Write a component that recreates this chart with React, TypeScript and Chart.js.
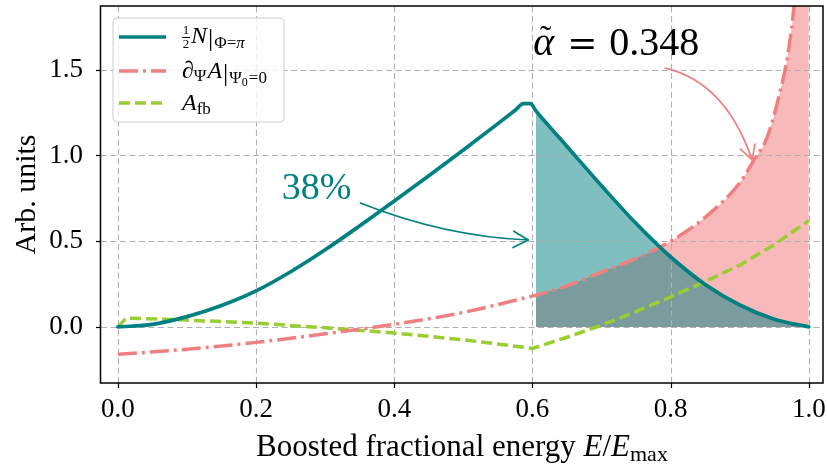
import React, { useEffect, useRef } from 'react';
import { Chart, registerables } from 'chart.js';

Chart.register(...registerables);

// ---- data ----
const xTicks = [0, 0.2, 0.4, 0.6, 0.8, 1.0];
const yTicks = [0, 0.5, 1.0, 1.5];

const tealX = [0, 0.05, 0.1, 0.15, 0.2, 0.25, 0.3, 0.35, 0.4, 0.45, 0.5, 0.55, 0.575, 0.587, 0.597, 0.605, 0.65, 0.7, 0.75, 0.8, 0.85, 0.9, 0.95, 1.0];
const tealY = [0, 0.015, 0.06, 0.125, 0.21, 0.322, 0.45, 0.59, 0.735, 0.882, 1.032, 1.186, 1.264, 1.302, 1.302, 1.26, 1.053, 0.823, 0.603, 0.408, 0.248, 0.128, 0.045, 0.0];

const redX = [0, 0.1, 0.2, 0.3, 0.4, 0.5, 0.6, 0.605, 0.65, 0.7, 0.75, 0.8, 0.85, 0.9, 0.92, 0.94, 0.96, 0.97, 0.98, 0.99, 1.0];
const redY = [-0.16, -0.13, -0.09, -0.04, 0.015, 0.085, 0.18, 0.185, 0.24, 0.32, 0.4, 0.5, 0.64, 0.84, 0.97, 1.11, 1.4, 1.6, 1.95, 2.7, 4.0];

const greenX = [0, 0.012, 0.1, 0.2, 0.3, 0.4, 0.5, 0.6, 0.65, 0.7, 0.75, 0.8, 0.85, 0.9, 0.95, 1.0];
const greenY = [0, 0.052, 0.04, 0.022, -0.005, -0.035, -0.075, -0.125, -0.06, 0.01, 0.09, 0.175, 0.265, 0.36, 0.48, 0.62];

const fillStart = 0.605;
const shareLabel = '38%';
const alphaValue = '0.348';

// ---- styles ----
const FONT = "'Liberation Serif', 'Times New Roman', serif";
const TEAL = '#008080';
const CORAL = '#f08080';
const GREEN = '#9acd32';

const pts = (xs: number[], ys: number[]) => xs.map((x, i) => ({ x, y: ys[i] }));

type Part = { t: string; size: number; italic?: boolean; dy?: number; dx?: number };
const fontOf = (p: Part) => `${p.italic ? 'italic ' : ''}${p.size}px ${FONT}`;
function measureRun(ctx: CanvasRenderingContext2D, parts: Part[]) {
  let w = 0;
  for (const p of parts) {
    ctx.font = fontOf(p);
    w += (p.dx || 0) + ctx.measureText(p.t).width;
  }
  return w;
}
function drawRun(ctx: CanvasRenderingContext2D, x: number, y: number, parts: Part[]) {
  for (const p of parts) {
    ctx.font = fontOf(p);
    x += p.dx || 0;
    ctx.fillText(p.t, x, y + (p.dy || 0));
    x += ctx.measureText(p.t).width;
  }
  return x;
}

function drawArrow(ctx: CanvasRenderingContext2D, p0: number[], c: number[], p2: number[], color: string, lw: number, head: number) {
  ctx.save();
  ctx.strokeStyle = color;
  ctx.lineWidth = lw;
  ctx.lineCap = 'round';
  ctx.lineJoin = 'round';
  ctx.beginPath();
  ctx.moveTo(p0[0], p0[1]);
  ctx.quadraticCurveTo(c[0], c[1], p2[0], p2[1]);
  ctx.stroke();
  const ang = Math.atan2(p2[1] - c[1], p2[0] - c[0]);
  const spread = 0.5;
  ctx.beginPath();
  ctx.moveTo(p2[0] - head * Math.cos(ang - spread), p2[1] - head * Math.sin(ang - spread));
  ctx.lineTo(p2[0], p2[1]);
  ctx.lineTo(p2[0] - head * Math.cos(ang + spread), p2[1] - head * Math.sin(ang + spread));
  ctx.stroke();
  ctx.restore();
}

const zeroPad = (s: any) => {
  s.paddingLeft = 0;
  s.paddingRight = 0;
  s.paddingTop = 0;
  s.paddingBottom = 0;
};

const decorPlugin = {
  id: 'decor',
  afterDatasetDraw(chart: any, args: any) {
    // grid drawn above the fills but below the curves (matplotlib style)
    if (args.index !== 3) return;
    const { ctx, chartArea: a, scales } = chart;
    ctx.save();
    ctx.beginPath();
    ctx.rect(a.left, a.top, a.right - a.left, a.bottom - a.top);
    ctx.clip();
    ctx.strokeStyle = '#b0b0b0';
    ctx.lineWidth = 1.1;
    ctx.setLineDash([6, 3.5]);
    for (const t of xTicks) {
      const x = Math.round(scales.x.getPixelForValue(t)) + 0.5;
      ctx.beginPath();
      ctx.moveTo(x, a.bottom);
      ctx.lineTo(x, a.top);
      ctx.stroke();
    }
    for (const t of yTicks) {
      const y = Math.round(scales.y.getPixelForValue(t)) + 0.5;
      ctx.beginPath();
      ctx.moveTo(a.left, y);
      ctx.lineTo(a.right, y);
      ctx.stroke();
    }
    ctx.restore();
  },
  afterDraw(chart: any) {
    const { ctx, chartArea: a, scales } = chart;
    const X = (v: number) => scales.x.getPixelForValue(v);
    const Y = (v: number) => scales.y.getPixelForValue(v);
    ctx.save();

    // frame
    ctx.strokeStyle = '#000';
    ctx.lineWidth = 1.5;
    ctx.strokeRect(a.left - 0.5, a.top, a.right - a.left + 0.5, a.bottom - a.top);
    // tick marks
    ctx.lineWidth = 1.2;
    for (const t of xTicks) {
      const x = Math.round(X(t)) + 0.5;
      ctx.beginPath();
      ctx.moveTo(x, a.bottom);
      ctx.lineTo(x, a.bottom + 5);
      ctx.stroke();
    }
    for (const t of yTicks) {
      const y = Math.round(Y(t)) + 0.5;
      ctx.beginPath();
      ctx.moveTo(a.left, y);
      ctx.lineTo(a.left - 5, y);
      ctx.stroke();
    }

    // x-axis title with math part
    ctx.fillStyle = '#000';
    ctx.textAlign = 'left';
    ctx.textBaseline = 'alphabetic';
    const titleParts: Part[] = [
      { t: 'Boosted fractional energy ', size: 31 },
      { t: 'E', size: 31, italic: true },
      { t: '/', size: 31 },
      { t: 'E', size: 31, italic: true },
      { t: 'max', size: 22, dy: 5 },
    ];
    const tw = measureRun(ctx, titleParts);
    drawRun(ctx, (a.left + a.right) / 2 - tw / 2, 456, titleParts);

    // arrows
    drawArrow(ctx, [X(0.351), Y(0.723)], [X(0.472), Y(0.528)], [X(0.594), Y(0.507)], TEAL, 1.7, 17);
    drawArrow(ctx, [X(0.792), Y(1.51)], [X(0.879), Y(1.43)], [X(0.918), Y(0.974)], CORAL, 1.7, 16);

    // 38% label
    ctx.fillStyle = TEAL;
    ctx.font = `38px ${FONT}`;
    ctx.textAlign = 'center';
    ctx.fillText(shareLabel, X(0.2875), Y(0.746));

    // alpha label
    ctx.fillStyle = '#000';
    ctx.textAlign = 'left';
    const ax = X(0.601);
    const ay = Y(1.586);
    ctx.font = `italic 40px ${FONT}`;
    ctx.fillText('α', ax, ay);
    const aw = ctx.measureText('α').width;
    ctx.textAlign = 'center';
    ctx.font = `34px ${FONT}`;
    ctx.fillText('˜', ax + aw / 2 + 2, ay - 6);
    ctx.textAlign = 'left';
    ctx.font = `36px 'DejaVu Serif', ${FONT}`;
    ctx.fillText('=', ax + 34, ay);
    ctx.font = `40px ${FONT}`;
    ctx.fillText(alphaValue, ax + 76, ay);

    // legend
    const lx = 113, ly = 18, lw = 171, lh = 104, r = 4;
    ctx.beginPath();
    ctx.moveTo(lx + r, ly);
    ctx.arcTo(lx + lw, ly, lx + lw, ly + lh, r);
    ctx.arcTo(lx + lw, ly + lh, lx, ly + lh, r);
    ctx.arcTo(lx, ly + lh, lx, ly, r);
    ctx.arcTo(lx, ly, lx + lw, ly, r);
    ctx.closePath();
    ctx.fillStyle = 'rgba(255,255,255,0.8)';
    ctx.fill();
    ctx.strokeStyle = '#cccccc';
    ctx.lineWidth = 1;
    ctx.stroke();

    const handle = (y: number, color: string, dash: number[], w: number) => {
      ctx.save();
      ctx.strokeStyle = color;
      ctx.lineWidth = w;
      ctx.setLineDash(dash);
      ctx.beginPath();
      ctx.moveTo(119, y);
      ctx.lineTo(166, y);
      ctx.stroke();
      ctx.restore();
    };
    handle(37, TEAL, [], 3.5);
    handle(71, CORAL, [19, 5, 3, 5], 3.5);
    handle(103, GREEN, [11, 5], 3.5);

    ctx.fillStyle = '#000';
    ctx.textAlign = 'center';
    ctx.font = `13px ${FONT}`;
    ctx.fillText('1', 186, 34);
    ctx.fillText('2', 186, 48);
    ctx.fillRect(182, 37, 8, 1);
    ctx.textAlign = 'left';
    drawRun(ctx, 191, 43, [
      { t: 'N', size: 24, italic: true },
      { t: '|', size: 26, dy: 3, dx: 1 },
      { t: 'Φ', size: 17, dy: 5, dx: 1 },
      { t: '=', size: 17, dy: 5 },
      { t: 'π', size: 17, dy: 5, italic: true },
    ]);
    drawRun(ctx, 182, 78, [
      { t: '∂', size: 24 },
      { t: 'Ψ', size: 17, dy: 3 },
      { t: 'A', size: 24, italic: true, dx: 1 },
      { t: '|', size: 26, dy: 3, dx: 1 },
      { t: 'Ψ', size: 17, dy: 5, dx: 1 },
      { t: '0', size: 12, dy: 8 },
      { t: '=0', size: 17, dy: 5, dx: 1 },
    ]);
    drawRun(ctx, 182, 110, [
      { t: 'A', size: 24, italic: true },
      { t: 'fb', size: 17, dy: 4 },
    ]);

    ctx.restore();
  },
};

export default function App() {
  const ref = useRef<HTMLCanvasElement>(null);
  useEffect(() => {
    const canvas = ref.current;
    if (!canvas) return;
    const tealData = pts(tealX, tealY);
    const redData = pts(redX, redY);
    const chart = new Chart(canvas, {
      type: 'line',
      data: {
        datasets: [
          { label: 'teal', data: tealData, borderColor: TEAL, borderWidth: 3.7, pointRadius: 0, cubicInterpolationMode: 'monotone', fill: false, order: 0, borderCapStyle: 'round', borderJoinStyle: 'round' } as any,
          { label: 'red', data: redData, borderColor: CORAL, borderWidth: 3.5, borderDash: [19, 5, 3, 5], pointRadius: 0, cubicInterpolationMode: 'monotone', fill: false, order: 1 } as any,
          { label: 'green', data: pts(greenX, greenY), borderColor: GREEN, borderWidth: 3.5, borderDash: [11, 5], pointRadius: 0, tension: 0, fill: false, order: 2 } as any,
          { label: 'tealFill', data: tealData.filter((p) => p.x >= fillStart), borderColor: 'rgba(0,0,0,0)', borderWidth: 0, backgroundColor: 'rgba(0,128,128,0.5)', pointRadius: 0, cubicInterpolationMode: 'monotone', fill: 'origin', order: 3 } as any,
          { label: 'pinkFill', data: redData.filter((p) => p.x >= fillStart), borderColor: 'rgba(0,0,0,0)', borderWidth: 0, backgroundColor: 'rgba(240,128,128,0.55)', pointRadius: 0, cubicInterpolationMode: 'monotone', fill: 'origin', order: 4 } as any,
        ],
      },
      options: {
        responsive: false,
        animation: false,
        devicePixelRatio: 1,
        layout: { padding: { top: 6, right: 4, left: 0, bottom: 0 } },
        plugins: { legend: { display: false }, tooltip: { enabled: false }, title: { display: false } },
        scales: {
          x: {
            type: 'linear',
            min: -0.0245,
            max: 1.0205,
            afterBuildTicks: (s: any) => { s.ticks = xTicks.map((v) => ({ value: v })); },
            afterFit: (s: any) => { s.height = 81; zeroPad(s); },
            grid: { display: false, drawTicks: false },
            border: { display: false },
            ticks: { color: '#000', font: { family: FONT, size: 27 }, padding: 11, maxRotation: 0, autoSkip: false, callback: (v: any) => Number(v).toFixed(1) },
          },
          y: {
            type: 'linear',
            min: -0.327,
            max: 1.872,
            afterBuildTicks: (s: any) => { s.ticks = yTicks.map((v) => ({ value: v })); },
            afterFit: (s: any) => { s.width = 101; zeroPad(s); },
            grid: { display: false, drawTicks: false },
            border: { display: false },
            ticks: { color: '#000', font: { family: FONT, size: 27 }, padding: 18, autoSkip: false, callback: (v: any) => Number(v).toFixed(1) },
            title: { display: true, text: 'Arb. units', color: '#000', font: { family: FONT, size: 30, lineHeight: 1 }, padding: { top: 12, bottom: 0 } },
          },
        },
      } as any,
      plugins: [decorPlugin],
    });
    return () => chart.destroy();
  }, []);
  return (
    <div style={{ position: 'absolute', left: 0, top: 0, width: 827, height: 464 }}>
      <canvas ref={ref} width={827} height={464} style={{ display: 'block', width: 827, height: 464 }} />
    </div>
  );
}
